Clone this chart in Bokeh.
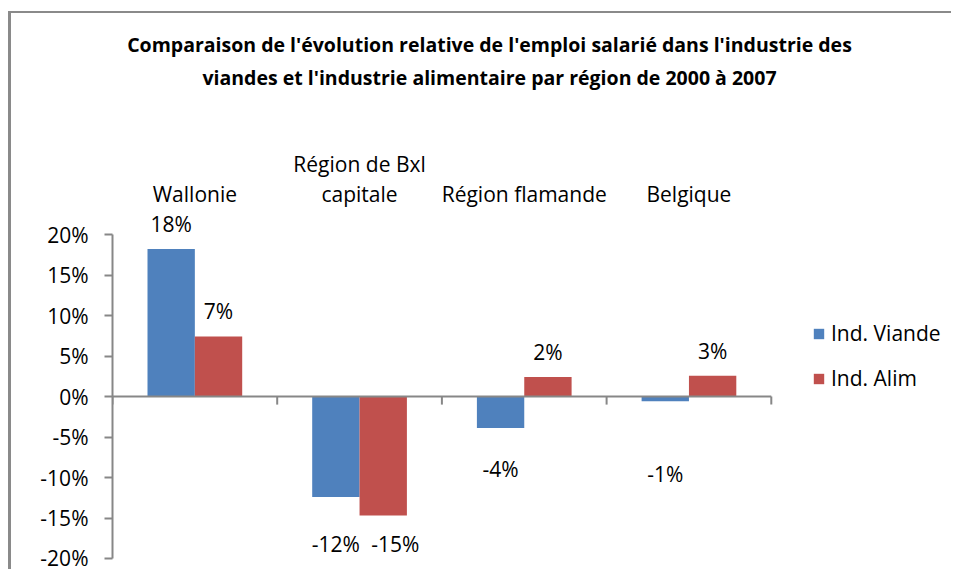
from bokeh.plotting import figure
from bokeh.models import ColumnDataSource, Range1d, FixedTicker, PrintfTickFormatter, Legend, LegendItem
from bokeh.core.properties import value
from bokeh.embed import file_html
from bokeh.resources import INLINE

# ---- data ----
title_lines = [
    "Comparaison de l'évolution relative de l'emploi salarié dans l'industrie des",
    "viandes et l'industrie alimentaire par région de 2000 à 2007",
]
regions = ["Wallonie", "Région de Bxl\ncapitale", "Région flamande", "Belgique"]
series_names = ["Ind. Viande", "Ind. Alim"]
viande = [18.2, -12.4, -3.9, -0.6]
alim = [7.4, -14.7, 2.4, 2.55]
y_ticks = [-20, -15, -10, -5, 0, 5, 10, 15, 20]

# ---- layout / style ----
FONT = value("Open Sans")
BLUE = "#4F81BD"
RED = "#C0504D"
GREY = "#878787"
PX_PER_PCT = 8.1
CAT_PX = 164.7
W, H = 943, 558
MB_LEFT, MB_TOP, MB_BOTTOM, MB_RIGHT = 101, 5, 13, 5
FRAME_W = W - MB_LEFT - MB_RIGHT
FRAME_H = H - MB_TOP - MB_BOTTOM
BAR_W = 0.2875
# manual placements of labels for the negative bars (in % units), as in the original
neg_label_y = {"viande": [None, -18.15, -9.0, -9.6], "alim": [None, -18.15, None, None]}
neg_label_dx = {"viande": 0.0, "alim": 0.073}

n = len(regions)
centers = [i + 0.5 for i in range(n)]

p = figure(width=W, height=H,
           x_range=Range1d(0, FRAME_W / CAT_PX),
           y_range=Range1d(-20, -20 + FRAME_H / PX_PER_PCT),
           output_backend="svg", toolbar_location=None, x_axis_location=None,
           min_border_left=MB_LEFT, min_border_right=MB_RIGHT, min_border_top=MB_TOP,
           min_border_bottom=MB_BOTTOM)
p.outline_line_color = None
p.grid.visible = False
# chart-area border on the left and top only (as in the original)
p.styles = {"margin-left": "11px", "margin-top": "13px",
            "box-shadow": "-3px -2px 0 0 #8a8a8a"}

src_v = ColumnDataSource(dict(x=[c - BAR_W / 2 for c in centers], top=viande))
src_a = ColumnDataSource(dict(x=[c + BAR_W / 2 for c in centers], top=alim))
rv = p.vbar(x="x", top="top", bottom=0, width=BAR_W, source=src_v, fill_color=BLUE, line_color=None)
ra = p.vbar(x="x", top="top", bottom=0, width=BAR_W, source=src_a, fill_color=RED, line_color=None)

# horizontal category axis line at 0 with tick marks
p.segment(x0=[0], y0=[0], x1=[n], y1=[0], line_color=GREY, line_width=2)
p.segment(x0=list(range(n + 1)), y0=[0] * (n + 1), x1=list(range(n + 1)), y1=[-1.0] * (n + 1),
          line_color=GREY, line_width=2)

# y axis
ax = p.yaxis[0]
ax.bounds = (-20, 20)
ax.ticker = FixedTicker(ticks=y_ticks)
ax.formatter = PrintfTickFormatter(format="%d%%")
ax.minor_tick_line_color = None
ax.major_tick_in = 0
ax.major_tick_out = 8
ax.axis_line_color = GREY
ax.axis_line_width = 2
ax.major_tick_line_color = GREY
ax.major_tick_line_width = 2
ax.major_label_text_font = "Open Sans"
ax.major_label_text_font_size = "21px"
ax.major_label_text_color = "#000000"
ax.major_label_standoff = 16

# data labels
def lab(v):
    return f"{round(v):d}%"

for key, vals, xs in (("viande", viande, src_v.data["x"]), ("alim", alim, src_a.data["x"])):
    lx, ly, lt = [], [], []
    for i, v in enumerate(vals):
        if v >= 0:
            lx.append(xs[i]); ly.append(v + 3.1)
        else:
            yy = neg_label_y[key][i]
            lx.append(xs[i] + neg_label_dx[key]); ly.append(yy if yy is not None else v - 3.1)
        lt.append(lab(v))
    p.text(x=lx, y=ly, text=lt, text_align="center", text_baseline="middle",
           text_font=FONT, text_font_size="21px", text_color="#000000")

# category labels above the plot
p.text(x=centers, y=[23.3] * n, text=regions, text_align="center", text_baseline="bottom",
       text_font=FONT, text_font_size="21px", text_color="#000000", text_line_height=1.08)

# title
p.text(x=[(489 - 112) / CAT_PX], y=[41.4], text=["\n".join(title_lines)], text_align="center",
       text_baseline="middle", text_font=FONT, text_font_style="bold", text_font_size="19.5px",
       text_color="#000000", text_line_height=1.22)

legend = Legend(items=[LegendItem(label=series_names[0], renderers=[rv]),
                       LegendItem(label=series_names[1], renderers=[ra])],
                location=(700, 166), orientation="vertical")
legend.label_text_font = "Open Sans"
legend.label_text_font_size = "21px"
legend.label_text_color = "#000000"
legend.glyph_width = 13
legend.glyph_height = 13
legend.label_height = 25
legend.label_standoff = 6
legend.spacing = 17
legend.padding = 0
legend.margin = 0
legend.border_line_color = None
legend.background_fill_alpha = 0
p.add_layout(legend, "center")

open("out.html", "w").write(file_html(p, INLINE))
